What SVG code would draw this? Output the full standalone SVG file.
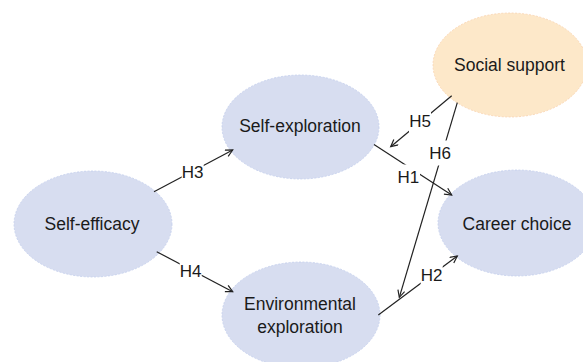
<svg xmlns="http://www.w3.org/2000/svg" width="583" height="362" viewBox="0 0 583 362">
  <style>
    .node { fill: #D7DDF0; stroke: #C3CEEC; stroke-width: 0.8; stroke-dasharray: 2 1.5; }
    .node-warm { fill: #FDE8C9; stroke: #F9D2AE; stroke-width: 0.8; stroke-dasharray: 2 1.5; }
    .ntext { font-family: "Liberation Sans", Arial, sans-serif; font-size: 17.5px; fill: #1A1A1A; text-anchor: middle; }
    .edge { stroke: #222222; stroke-width: 1.2; fill: none; marker-end: url(#arrow); }
    .lbg { fill: #FFFFFF; }
    .ltext { font-family: "Liberation Sans", Arial, sans-serif; font-size: 17px; fill: #1A1A1A; text-anchor: middle; }
  </style>
  <defs>
    <marker id="arrow" markerUnits="userSpaceOnUse" markerWidth="10" markerHeight="10" refX="8" refY="4" orient="auto">
      <path d="M1,0.5 L8,4 L1,7.5" fill="none" stroke="#222222" stroke-width="1.2"/>
    </marker>
  </defs>
  <rect width="583" height="362" fill="#FFFFFF"/>

  <g id="self-efficacy">
    <ellipse class="node" cx="93" cy="224" rx="79" ry="53"/>
    <text class="ntext" x="92" y="230">Self-efficacy</text>
  </g>
  <g id="self-exploration">
    <ellipse class="node" cx="300.5" cy="127" rx="78.5" ry="52"/>
    <text class="ntext" x="300" y="132">Self-exploration</text>
  </g>
  <g id="environmental-exploration">
    <ellipse class="node" cx="301" cy="315" rx="79" ry="53"/>
    <text class="ntext" x="300" y="310">Environmental</text>
    <text class="ntext" x="300" y="333">exploration</text>
  </g>
  <g id="social-support">
    <ellipse class="node-warm" cx="510" cy="65" rx="77" ry="52"/>
    <text class="ntext" x="509.5" y="71">Social support</text>
  </g>
  <g id="career-choice">
    <ellipse class="node" cx="517" cy="223" rx="79" ry="53"/>
    <text class="ntext" x="517" y="230">Career choice</text>
  </g>

  <g id="connectors">
    <line class="edge" x1="154" y1="191.7" x2="232.7" y2="150"/>
    <line class="edge" x1="156.7" y1="251.7" x2="232.7" y2="291.7"/>
    <line class="edge" x1="374" y1="144.5" x2="451.7" y2="195"/>
    <line class="edge" x1="378.3" y1="315" x2="457.3" y2="256"/>
    <line class="edge" x1="451.7" y1="95.7" x2="390.7" y2="146.7"/>
    <line class="edge" x1="457.3" y1="102.7" x2="399.3" y2="297.3"/>

    <rect class="lbg" x="181.7" y="159.5" width="22" height="25"/>
    <text class="ltext" x="192.7" y="177.7">H3</text>
    <rect class="lbg" x="179.7" y="258.5" width="22" height="25"/>
    <text class="ltext" x="190.7" y="276.5">H4</text>
    <rect class="lbg" x="398" y="164.5" width="22" height="25"/>
    <text class="ltext" x="408.3" y="182.5">H1</text>
    <rect class="lbg" x="420.7" y="263" width="22" height="25"/>
    <text class="ltext" x="431.7" y="281">H2</text>
    <rect class="lbg" x="409" y="109" width="22" height="25"/>
    <text class="ltext" x="420" y="127">H5</text>
    <rect class="lbg" x="429" y="140.5" width="22" height="25"/>
    <text class="ltext" x="440" y="158.5">H6</text>
  </g>
</svg>
